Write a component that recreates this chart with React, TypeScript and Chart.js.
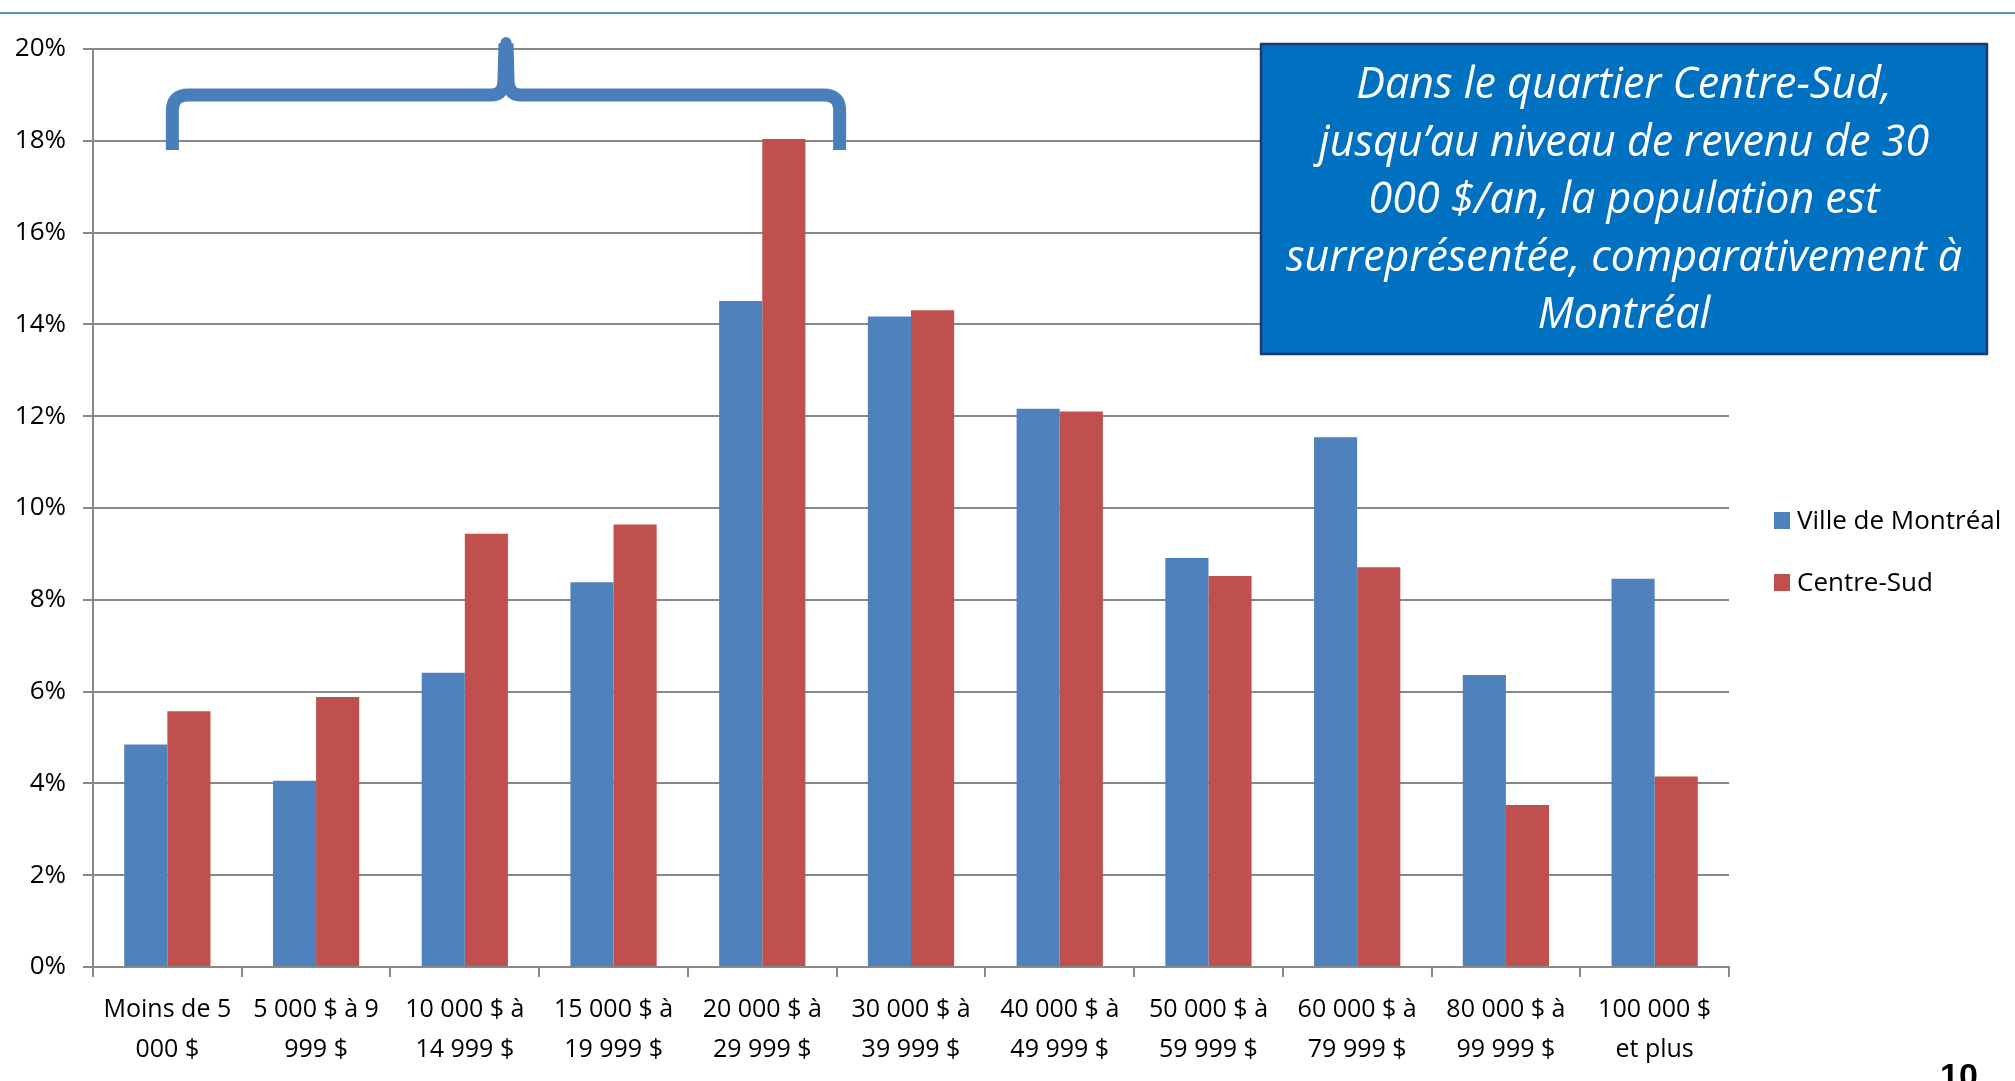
import React, { useEffect, useRef } from "react";
import { Chart, registerables } from "chart.js";

Chart.register(...registerables);

const categoryLine1 = [
  "Moins de 5", "5 000 $ à 9", "10 000 $ à", "15 000 $ à", "20 000 $ à", "30 000 $ à",
  "40 000 $ à", "50 000 $ à", "60 000 $ à", "80 000 $ à", "100 000 $",
];
const categoryLine2 = [
  "000 $", "999 $", "14 999 $", "19 999 $", "29 999 $", "39 999 $",
  "49 999 $", "59 999 $", "79 999 $", "99 999 $", "et plus",
];
const montrealValues = [4.85, 4.06, 6.41, 8.38, 14.51, 14.17, 12.16, 8.91, 11.54, 6.36, 8.46];
const centreSudValues = [5.57, 5.88, 9.44, 9.64, 18.04, 14.31, 12.1, 8.52, 8.71, 3.53, 4.15];
const seriesNames = ["Ville de Montréal", "Centre-Sud"];
const seriesColors = ["#4F81BD", "#C0504D"];
const yTicks = [0, 2, 4, 6, 8, 10, 12, 14, 16, 18, 20];
const calloutLines = [
  "Dans le quartier Centre-Sud,",
  "jusqu’au niveau de revenu de 30",
  "000 $/an, la population est",
  "surreprésentée, comparativement à",
  "Montréal",
];
const pageNumber = "10";

const FONT = "'Open Sans', 'Liberation Sans', sans-serif";

const overlayPlugin = {
  id: "overlay",
  afterDraw(chart: any) {
    const ctx = chart.ctx as CanvasRenderingContext2D;
    const xs = chart.scales.x;
    const ys = chart.scales.y;
    ctx.save();

    // top rule
    ctx.fillStyle = "#5B8FCB";
    ctx.fillRect(0, 12, chart.width, 2);

    // brace
    const x0 = xs.getPixelForValue(0) + 5;
    const x1 = (xs.getPixelForValue(4) + xs.getPixelForValue(5)) / 2 + 3;
    const xm = (x0 + x1) / 2;
    const yb = ys.getPixelForValue(17.8);
    const yh = ys.getPixelForValue(19);
    const yp = ys.getPixelForValue(20.25);
    ctx.strokeStyle = "#4A7EBB";
    ctx.lineWidth = 13;
    ctx.lineJoin = "round";
    ctx.lineCap = "butt";
    ctx.beginPath();
    ctx.moveTo(x0, yb);
    ctx.lineTo(x0, yh + 16);
    ctx.quadraticCurveTo(x0, yh, x0 + 16, yh);
    ctx.lineTo(xm - 14, yh);
    ctx.quadraticCurveTo(xm - 2, yh, xm - 2, yh - 16);
    ctx.lineTo(xm - 1, yp + 6);
    ctx.stroke();
    ctx.beginPath();
    ctx.moveTo(x1, yb);
    ctx.lineTo(x1, yh + 16);
    ctx.quadraticCurveTo(x1, yh, x1 - 16, yh);
    ctx.lineTo(xm + 14, yh);
    ctx.quadraticCurveTo(xm + 2, yh, xm + 2, yh - 16);
    ctx.lineTo(xm + 1, yp + 6);
    ctx.stroke();
    ctx.lineCap = "round";
    ctx.lineWidth = 11;
    ctx.beginPath();
    ctx.moveTo(xm, yh - 10);
    ctx.lineTo(xm, yp + 5);
    ctx.stroke();

    // callout box
    const bx = 1261, by = 44, bw = 726, bh = 310;
    ctx.fillStyle = "#0070C0";
    ctx.fillRect(bx, by, bw, bh);
    ctx.strokeStyle = "#1F3864";
    ctx.lineWidth = 2.5;
    ctx.strokeRect(bx, by, bw, bh);
    ctx.fillStyle = "#FFFFFF";
    ctx.font = `italic 43px ${FONT}`;
    ctx.textAlign = "center";
    ctx.textBaseline = "alphabetic";
    let maxW = 0;
    calloutLines.forEach((l) => { maxW = Math.max(maxW, ctx.measureText(l).width); });
    const sx = 676 / maxW;
    const cx = bx + bw / 2;
    calloutLines.forEach((l, i) => {
      ctx.save();
      ctx.translate(cx, 98 + i * 57.5);
      ctx.scale(sx, 1);
      ctx.fillText(l, 0, 0);
      ctx.restore();
    });

    // legend
    ctx.textAlign = "left";
    ctx.font = `26px ${FONT}`;
    const legendY = [512, 574];
    chart.data.datasets.forEach((ds: any, i: number) => {
      ctx.fillStyle = ds.backgroundColor;
      ctx.fillRect(1774, legendY[i], 16, 17);
      ctx.fillStyle = "#000";
      ctx.fillText(ds.label, 1797, legendY[i] + 17);
    });

    // page number
    ctx.font = `bold 34px 'Liberation Sans', Arial, sans-serif`;
    ctx.fillStyle = "#000";
    ctx.fillText(pageNumber, 1940, 1087);
    ctx.restore();
  },
};

export default function App() {
  const ref = useRef<HTMLCanvasElement | null>(null);
  useEffect(() => {
    if (!ref.current) return;
    const labels = categoryLine1.map((l, i) => [l, categoryLine2[i]]);
    const chart = new Chart(ref.current, {
      type: "bar",
      data: {
        labels,
        datasets: [
          {
            label: seriesNames[0],
            data: montrealValues,
            backgroundColor: seriesColors[0],
            borderWidth: 0,
            categoryPercentage: 0.58,
            barPercentage: 1.0,
          },
          {
            label: seriesNames[1],
            data: centreSudValues,
            backgroundColor: seriesColors[1],
            borderWidth: 0,
            categoryPercentage: 0.58,
            barPercentage: 1.0,
          },
        ],
      },
      options: {
        animation: false,
        responsive: true,
        maintainAspectRatio: false,
        layout: { padding: { top: 49, right: 286, left: 0, bottom: 0 } },
        plugins: { legend: { display: false }, tooltip: { enabled: false } },
        scales: {
          x: {
            offset: true,
            grid: {
              offset: true,
              drawOnChartArea: false,
              drawTicks: true,
              tickLength: 10,
              color: "#888888",
              lineWidth: 2,
            },
            border: { display: true, color: "#888888", width: 2 },
            ticks: {
              font: { family: FONT, size: 25, lineHeight: 1.6 },
              color: "#000",
              padding: 13,
              maxRotation: 0,
              autoSkip: false,
            },
            afterFit(scale: any) {
              scale.height = 114;
            },
          },
          y: {
            min: 0,
            max: 20,
            afterBuildTicks(scale: any) {
              scale.ticks = yTicks.map((v) => ({ value: v }));
            },
            ticks: {
              font: { family: FONT, size: 26 },
              color: "#000",
              padding: 17,
              callback: (v: any) => `${v}%`,
            },
            grid: { color: "#888888", lineWidth: 2, tickLength: 10 },
            border: { display: true, color: "#888888", width: 2 },
            afterFit(scale: any) {
              scale.width = 93;
            },
          },
        },
      },
      plugins: [overlayPlugin],
    });
    return () => chart.destroy();
  }, []);
  return (
    <div style={{ position: "fixed", left: 0, top: 0, width: 2015, height: 1081, background: "#fff" }}>
      <canvas ref={ref} style={{ display: "block", width: "100%", height: "100%" }} />
    </div>
  );
}
